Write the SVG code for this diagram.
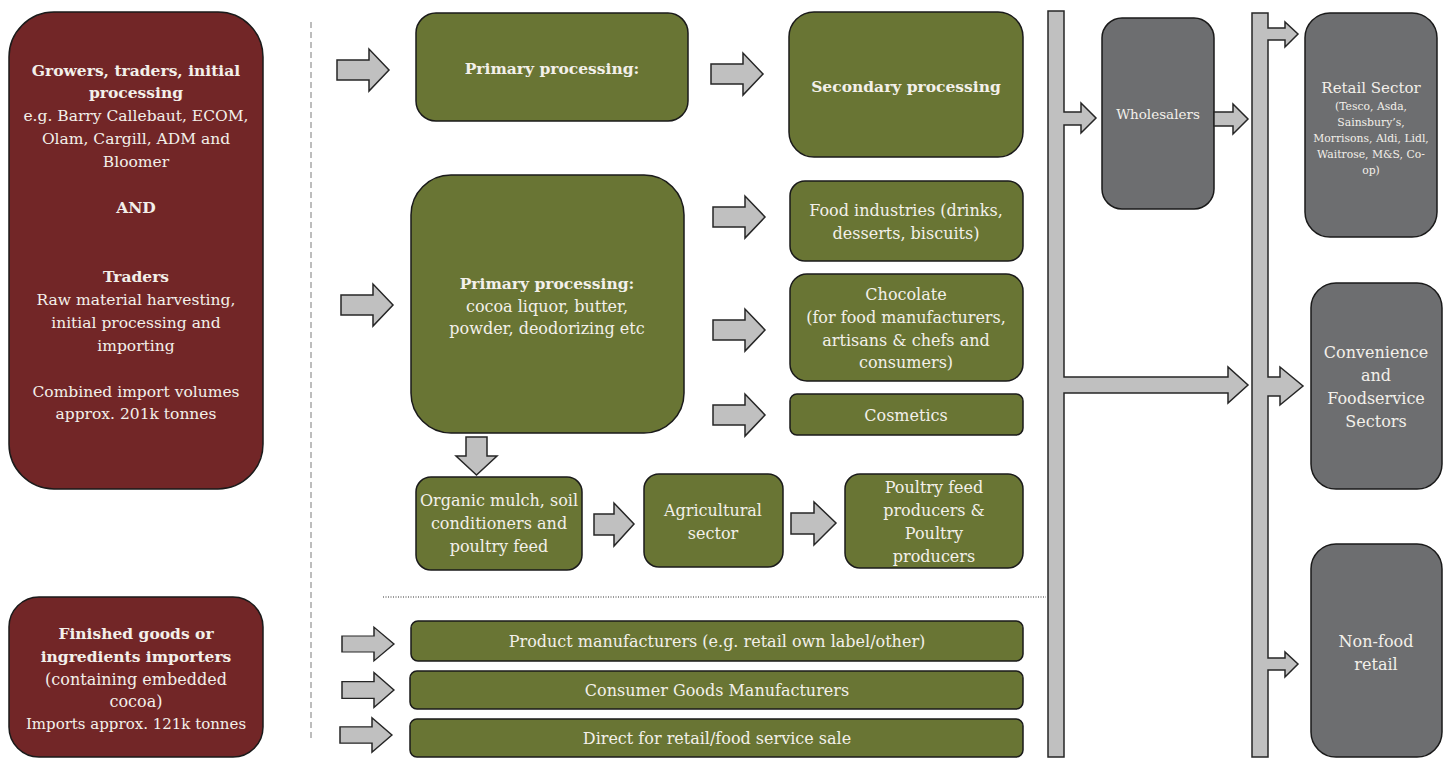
<svg xmlns="http://www.w3.org/2000/svg" width="1447" height="758" viewBox="0 0 1447 758">
<style>
.red{fill:#722627;stroke:#1a1a1a;stroke-width:1.5}
.grn{fill:#697534;stroke:#1a1a1a;stroke-width:1.5}
.gry{fill:#6d6e70;stroke:#1a1a1a;stroke-width:1.5}
.arr{fill:#c0c0c0;stroke:#262626;stroke-width:1.5;stroke-linejoin:miter}
text{font-family:"DejaVu Serif","Liberation Serif",serif;fill:#f3f0ea;text-anchor:middle;font-size:16px}
.b{font-weight:bold;font-size:15.5px}
.l{font-size:15.5px}
</style>
<defs>
<path id="ra" d="M0,-10 H32 V-21 L52,0 L32,21 V10 H0 Z"/>
</defs>
<rect width="1447" height="758" fill="#ffffff"/>

<line x1="311" y1="22" x2="311" y2="738" stroke="#9a9a9a" stroke-width="1.3" stroke-dasharray="6,4"/>
<line x1="383" y1="597" x2="1046" y2="597" stroke="#333" stroke-width="1" stroke-dasharray="1,1.5"/>

<g id="growers">
<rect class="red" x="9" y="12" width="254" height="477" rx="45"/>
<text x="136" y="76" class="b">Growers, traders, initial</text>
<text x="136" y="98" class="b">processing</text>
<text x="136" y="121" class="l">e.g. Barry Callebaut, ECOM,</text>
<text x="136" y="144" class="l">Olam, Cargill, ADM and</text>
<text x="136" y="167" class="l">Bloomer</text>
<text x="136" y="213" class="b">AND</text>
<text x="136" y="282" class="b">Traders</text>
<text x="136" y="305" class="l">Raw material harvesting,</text>
<text x="136" y="328" class="l">initial processing and</text>
<text x="136" y="351" class="l">importing</text>
<text x="136" y="397" class="l">Combined import volumes</text>
<text x="136" y="419" class="l">approx. 201k tonnes</text>
</g>

<g id="finished">
<rect class="red" x="9" y="597" width="254" height="160" rx="30"/>
<text x="136" y="639" class="b">Finished goods or</text>
<text x="136" y="662" class="b">ingredients importers</text>
<text x="136" y="685">(containing embedded</text>
<text x="136" y="707">cocoa)</text>
<text x="136" y="729" style="font-size:15px">Imports approx. 121k tonnes</text>
</g>

<g id="primary1">
<rect class="grn" x="416" y="13" width="272" height="108" rx="20"/>
<text x="552" y="74" class="b">Primary processing:</text>
</g>
<g id="secondary">
<rect class="grn" x="789" y="12" width="234" height="145" rx="25"/>
<text x="906" y="92" class="b">Secondary processing</text>
</g>
<g id="primary2">
<rect class="grn" x="411" y="175" width="273" height="258" rx="40"/>
<text x="547" y="289" class="b">Primary processing:</text>
<text x="547" y="312">cocoa liquor, butter,</text>
<text x="547" y="334">powder, deodorizing etc</text>
</g>
<g id="food">
<rect class="grn" x="790" y="181" width="233" height="80" rx="15"/>
<text x="906" y="216">Food industries (drinks,</text>
<text x="906" y="239">desserts, biscuits)</text>
</g>
<g id="chocolate">
<rect class="grn" x="790" y="274" width="233" height="107" rx="17"/>
<text x="906" y="300">Chocolate</text>
<text x="906" y="323">(for food manufacturers,</text>
<text x="906" y="346">artisans &amp; chefs and</text>
<text x="906" y="368">consumers)</text>
</g>
<g id="cosmetics">
<rect class="grn" x="790" y="394" width="233" height="41" rx="7"/>
<text x="906" y="421">Cosmetics</text>
</g>
<g id="mulch">
<rect class="grn" x="416" y="477" width="166" height="93" rx="15"/>
<text x="499" y="506">Organic mulch, soil</text>
<text x="499" y="529">conditioners and</text>
<text x="499" y="552">poultry feed</text>
</g>
<g id="agri">
<rect class="grn" x="644" y="474" width="139" height="93" rx="15"/>
<text x="713" y="516">Agricultural</text>
<text x="713" y="539">sector</text>
</g>
<g id="poultry">
<rect class="grn" x="845" y="474" width="178" height="94" rx="15"/>
<text x="934" y="493">Poultry feed</text>
<text x="934" y="516">producers &amp;</text>
<text x="934" y="539">Poultry</text>
<text x="934" y="562">producers</text>
</g>
<g id="product">
<rect class="grn" x="411" y="621" width="612" height="40" rx="7"/>
<text x="717" y="647">Product manufacturers (e.g. retail own label/other)</text>
</g>
<g id="consumer">
<rect class="grn" x="410" y="671" width="613" height="38" rx="7"/>
<text x="717" y="696">Consumer Goods Manufacturers</text>
</g>
<g id="direct">
<rect class="grn" x="410" y="719" width="613" height="38" rx="7"/>
<text x="717" y="744">Direct for retail/food service sale</text>
</g>

<g id="wholesalers">
<rect class="gry" x="1102" y="18" width="112" height="191" rx="20"/>
<text x="1158" y="119" style="font-size:13.5px">Wholesalers</text>
</g>
<g id="retail">
<rect class="gry" x="1305" y="13" width="132" height="224" rx="25"/>
<text x="1371" y="93" style="font-size:15px">Retail Sector</text>
<text x="1371" y="110" style="font-size:10.8px">(Tesco, Asda,</text>
<text x="1371" y="126" style="font-size:10.8px">Sainsbury’s,</text>
<text x="1371" y="142" style="font-size:10.8px">Morrisons, Aldi, Lidl,</text>
<text x="1371" y="158" style="font-size:10.8px">Waitrose, M&amp;S, Co-</text>
<text x="1371" y="174" style="font-size:10.8px">op)</text>
</g>
<g id="convenience">
<rect class="gry" x="1311" y="283" width="131" height="206" rx="25"/>
<text x="1376" y="358">Convenience</text>
<text x="1376" y="381">and</text>
<text x="1376" y="404">Foodservice</text>
<text x="1376" y="427">Sectors</text>
</g>
<g id="nonfood">
<rect class="gry" x="1311" y="544" width="131" height="213" rx="25"/>
<text x="1376" y="647">Non-food</text>
<text x="1376" y="670">retail</text>
</g>

<g id="connectors">
<use href="#ra" class="arr" transform="translate(337,70)"/>
<use href="#ra" class="arr" transform="translate(341,305)"/>
<use href="#ra" class="arr" transform="translate(711,74)"/>
<use href="#ra" class="arr" transform="translate(713,217)"/>
<use href="#ra" class="arr" transform="translate(713,330)"/>
<use href="#ra" class="arr" transform="translate(713,415)"/>
<use href="#ra" class="arr" transform="translate(342,644) scale(1,0.8)"/>
<use href="#ra" class="arr" transform="translate(342,690) scale(1,0.83)"/>
<use href="#ra" class="arr" transform="translate(340,735) scale(1,0.82)"/>
<path class="arr" d="M466,437 H487 V456 H497 L476.5,475 L456,456 H466 Z"/>
<path class="arr" d="M594,514 H614 V503 L634,524 L614,546 V535 H594 Z"/>
<path class="arr" d="M791,513 H814 V502 L836,523 L814,545 V534 H791 Z"/>
<path class="arr" d="M1048,11 H1064 V112 H1081 V103 L1096,118 L1081,133 V125 H1064 V377 H1228 V367 L1248,385 L1228,403 V393 H1064 V757 H1048 Z"/>
<path class="arr" d="M1214,112 H1233 V104 L1248,119 L1233,134 V126 H1214 Z"/>
<path class="arr" d="M1252,13 H1268 V28 H1285 V22 L1298,34 L1285,47 V40 H1268 V377 H1280 V367 L1303,386 L1280,405 V396 H1268 V658 H1285 V652 L1298,664 L1285,677 V670 H1268 V757 H1252 Z"/>
</g>
</svg>
